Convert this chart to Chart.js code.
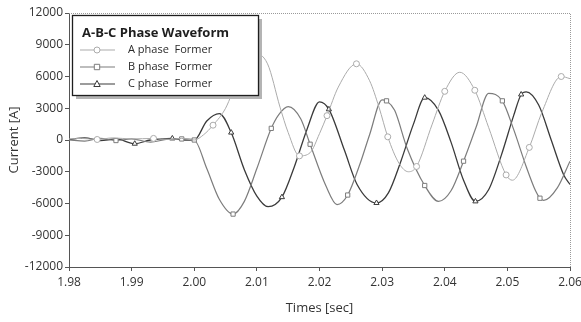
<!DOCTYPE html>
<html>
<head>
<meta charset="utf-8">
<script src="https://cdn.jsdelivr.net/npm/chart.js@4.4.1/dist/chart.umd.min.js"></script>
<style>
html, body { margin: 0; padding: 0; background: #fff; }
#wrap { width: 581px; height: 322px; }
</style>
</head>
<body>
<div id="wrap"><canvas id="grafica" width="581" height="322"></canvas></div>
<script>
// Valores (tiempo en s, corriente en A)
var tiempoA = [1.980, 1.982, 1.9845, 1.987, 1.990, 1.9935, 1.996, 1.998, 2.000, 2.0015, 2.003, 2.005, 2.007, 2.0095, 2.0117, 2.0137, 2.015, 2.0168, 2.0185, 2.020, 2.0212, 2.023, 2.0259, 2.028, 2.0295, 2.0309, 2.0327, 2.0342, 2.0355, 2.038, 2.040, 2.0424, 2.0448, 2.047, 2.0498, 2.0508, 2.0535, 2.0555, 2.0586, 2.060];
var corrienteA = [100, 150, 50, 200, 100, 150, 50, 150, 0, 500, 1400, 3000, 5800, 8200, 7200, 3100, 700, -1500, -1200, 600, 2300, 5000, 7200, 5600, 3100, 300, -2200, -3000, -2500, 1500, 4600, 6400, 4700, 1200, -3300, -3800, -700, 2600, 6000, 5800];
var marcasA = [1.9845, 1.9935, 2.003, 2.0168, 2.0212, 2.0259, 2.0309, 2.0355, 2.040, 2.0448, 2.0498, 2.0535, 2.0586];

var tiempoB = [1.980, 1.9825, 1.985, 1.9875, 1.990, 1.993, 1.9955, 1.998, 2.000, 2.002, 2.004, 2.0062, 2.008, 2.010, 2.0123, 2.0135, 2.015, 2.017, 2.0185, 2.021, 2.0228, 2.0245, 2.0265, 2.028, 2.030, 2.0307, 2.032, 2.034, 2.0368, 2.039, 2.041, 2.043, 2.045, 2.047, 2.0492, 2.051, 2.053, 2.0545, 2.0552, 2.0558, 2.058, 2.060];
var corrienteB = [0, -100, 150, -50, 100, -200, 50, 100, 0, -2700, -5600, -7000, -5800, -2700, 1100, 2400, 3150, 2000, -400, -4300, -6100, -5200, -2200, 500, 3800, 3700, 2800, -800, -4300, -5800, -4800, -2000, 1200, 4400, 3700, 1000, -2500, -4800, -5500, -5700, -4500, -2000];
var marcasB = [1.9875, 1.998, 2.000, 2.0062, 2.0123, 2.0185, 2.0245, 2.0307, 2.0368, 2.043, 2.0492, 2.0552];

var tiempoC = [1.980, 1.9825, 1.985, 1.9875, 1.9905, 1.993, 1.9965, 1.998, 2.000, 2.002, 2.004, 2.0059, 2.008, 2.010, 2.0118, 2.014, 2.016, 2.018, 2.020, 2.0215, 2.024, 2.026, 2.0291, 2.031, 2.033, 2.035, 2.0368, 2.039, 2.041, 2.043, 2.0449, 2.047, 2.049, 2.051, 2.0522, 2.053, 2.055, 2.057, 2.059, 2.060];
var corrienteC = [50, 200, -50, 100, -350, 0, 150, 0, 0, 1800, 2500, 700, -2800, -5300, -6300, -5400, -2500, 1000, 3600, 2900, -1000, -4200, -5950, -5000, -2000, 1500, 4000, 2800, -200, -3800, -5800, -4700, -1500, 2300, 4300, 4550, 3300, 0, -3300, -4200];
var marcasC = [1.9905, 1.9965, 2.0059, 2.014, 2.0215, 2.0291, 2.0368, 2.0449, 2.0522];

var etiquetas = ['A phase  Former', 'B phase  Former', 'C phase  Former'];
var titulo = 'A-B-C Phase Waveform';

var colores = ['#ababab', '#7c7c7c', '#3a3a3a'];
var estilos = ['circle', 'rect', 'triangle'];

function puntos(t, v) {
    var out = [];
    for (var i = 0; i < t.length; i++) out.push({ x: t[i], y: v[i] });
    return out;
}

function serie(nombre, t, v, marcas, k) {
    return {
        label: nombre,
        data: puntos(t, v),
        borderColor: colores[k],
        borderWidth: [1, 1.2, 1.3][k],
        backgroundColor: '#ffffff',
        pointBorderColor: colores[k],
        pointBorderWidth: 1,
        pointStyle: estilos[k],
        pointRadius: function (ctx) {
            if (ctx.type !== 'data') return 0;
            return marcas.indexOf(ctx.raw.x) >= 0 ? 3 : 0;
        },
        pointHoverRadius: 0,
        cubicInterpolationMode: 'monotone',
        fill: false
    };
}

function marcador(ctx, k, x, y) {
    ctx.beginPath();
    if (estilos[k] === 'circle') {
        ctx.arc(x, y, 3, 0, Math.PI * 2);
    } else if (estilos[k] === 'rect') {
        ctx.rect(x - 2.7, y - 2.7, 5.4, 5.4);
    } else {
        ctx.moveTo(x, y - 3.5);
        ctx.lineTo(x + 3.2, y + 2.5);
        ctx.lineTo(x - 3.2, y + 2.5);
        ctx.closePath();
    }
    ctx.fillStyle = '#fff';
    ctx.fill();
    ctx.strokeStyle = colores[k];
    ctx.lineWidth = 1;
    ctx.stroke();
}

// Marco superior/derecho y leyenda dentro del area
var marcoYLeyenda = {
    id: 'marcoYLeyenda',
    afterDatasetsDraw: function (chart) {
        var ctx = chart.ctx, a = chart.chartArea;
        ctx.save();
        ctx.strokeStyle = '#9a9a9a';
        ctx.lineWidth = 1;
        ctx.setLineDash([1, 1]);
        ctx.beginPath();
        ctx.moveTo(a.left, a.top + 0.5);
        ctx.lineTo(a.right + 0.5, a.top + 0.5);
        ctx.lineTo(a.right + 0.5, a.bottom);
        ctx.stroke();
        ctx.setLineDash([]);

        var bx = a.left + 3, by = 15, bw = 186, bh = 80;
        ctx.fillStyle = '#b4b4b4';
        ctx.fillRect(bx + 4, by + 4, bw, bh);
        ctx.fillStyle = '#ffffff';
        ctx.fillRect(bx, by, bw, bh);
        ctx.strokeStyle = '#1e1e1e';
        ctx.lineWidth = 1.3;
        ctx.strokeRect(bx + 0.5, by + 0.5, bw, bh);

        ctx.fillStyle = '#1e1e1e';
        ctx.textBaseline = 'middle';
        ctx.textAlign = 'left';
        ctx.font = 'bold 13px "Open Sans"';
        ctx.fillText(titulo, bx + 10, by + 18);

        ctx.font = '11px "Open Sans"';
        for (var k = 0; k < 3; k++) {
            var yy = by + 35 + k * 17;
            ctx.strokeStyle = colores[k];
            ctx.lineWidth = 1.2;
            ctx.beginPath();
            ctx.moveTo(bx + 8, yy);
            ctx.lineTo(bx + 43, yy);
            ctx.stroke();
            marcador(ctx, k, bx + 25, yy);
            ctx.fillStyle = '#2a2a2a';
            ctx.fillText(etiquetas[k], bx + 56, yy);
        }
        ctx.restore();
    }
};

var fuenteTicks = { family: '"Open Sans"', size: 12 };

new Chart(document.getElementById('grafica').getContext('2d'), {
    type: 'line',
    data: {
        datasets: [
            serie(etiquetas[0], tiempoA, corrienteA, marcasA, 0),
            serie(etiquetas[1], tiempoB, corrienteB, marcasB, 1),
            serie(etiquetas[2], tiempoC, corrienteC, marcasC, 2)
        ]
    },
    options: {
        responsive: false,
        animation: false,
        events: [],
        layout: { padding: { top: 13, right: 11, left: 0, bottom: 0 } },
        plugins: {
            legend: { display: false },
            tooltip: { enabled: false }
        },
        scales: {
            x: {
                type: 'linear',
                min: 1.98,
                max: 2.06,
                afterFit: function (s) {
                    s.height = 55;
                    s.paddingRight = 0;
                    s.paddingLeft = 0;
                },
                ticks: {
                    stepSize: 0.01,
                    padding: 4,
                    color: '#333',
                    font: fuenteTicks,
                    maxRotation: 0,
                    callback: function (v) { return v.toFixed(2); }
                },
                grid: { drawOnChartArea: false, tickLength: 4, color: '#555' },
                border: { color: '#555', width: 1 },
                title: {
                    display: true,
                    text: 'Times [sec]',
                    color: '#333',
                    font: { family: '"Open Sans"', size: 13 },
                    padding: { top: 2, bottom: 6 }
                }
            },
            y: {
                min: -12000,
                max: 12000,
                afterFit: function (s) {
                    s.width = 69;
                    s.paddingTop = 0;
                    s.paddingBottom = 0;
                },
                ticks: {
                    stepSize: 3000,
                    padding: 2,
                    color: '#333',
                    font: fuenteTicks,
                    callback: function (v) { return String(v); }
                },
                grid: { drawOnChartArea: false, tickLength: 4, color: '#555' },
                border: { color: '#555', width: 1 },
                title: {
                    display: true,
                    text: 'Current [A]',
                    color: '#333',
                    font: { family: '"Open Sans"', size: 13 },
                    padding: { top: 6, bottom: 2 }
                }
            }
        }
    },
    plugins: [marcoYLeyenda]
});
</script>
</body>
</html>
